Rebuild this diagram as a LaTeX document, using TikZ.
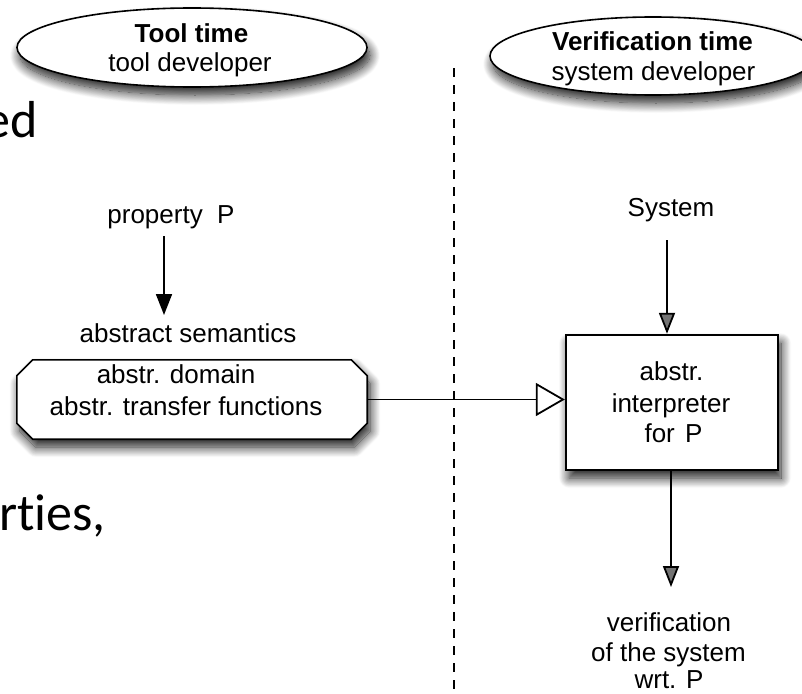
\documentclass[tikz,border=0pt]{standalone}
\usepackage{fontspec}
\setmainfont{Liberation Sans}
\newfontfamily\slidefont[Ligatures=NoCommon]{Carlito}
\usetikzlibrary{arrows.meta,shapes.geometric,shadows.blur}

\begin{document}
\begin{tikzpicture}[x=1pt,y=-1pt,
  lbl/.style={anchor=base, inner sep=0pt, font=\fontsize{26}{30}\selectfont},
  ttl/.style={anchor=base, inner sep=0pt, font=\fontsize{26}{30}\selectfont\bfseries},
  soft/.style={blur shadow={shadow xshift=3pt, shadow yshift=-8pt,
      shadow blur radius=10pt, shadow blur steps=16, shadow opacity=90}},
  bubble/.style={ellipse, draw, line width=1.6pt, fill=white, soft, inner sep=0pt},
  frame/.style={draw=none, inner sep=0pt},
  arr/.style={line width=1.8pt, -{Triangle[length=21pt,width=16pt]}},
  feed/.style={line width=1.8pt, -{Triangle[open,length=29pt,width=33pt,fill=white]}},
  divider/.style={line width=1.8pt, dash pattern=on 9pt off 8pt},
  slide/.style={inner sep=0pt, font=\slidefont\fontsize{52}{60}\selectfont}
]
\useasboundingbox (0,0) rectangle (802,693);

% fragments of the slide text behind the diagram
\node[slide, anchor=base east] (slideA) at (38,137) {ed};
\node[slide, anchor=base west] (slideB) at (-1,530) {rties,};

% divider between tool time and verification time
\coordinate (dtop) at (454,68);
\coordinate (dbot) at (454,693);
\draw[divider] (dtop) -- (dbot);

% the two phases
\node[bubble, minimum width=350pt, minimum height=79pt] (tool) at (192,47.5) {};
\node[ttl] (toolA) at (191.5,42) {Tool time};
\node[lbl] (toolB) at (190,71) {tool developer};

\node[bubble, minimum width=326pt, minimum height=78pt] (veri) at (653,56) {};
\node[ttl] (veriA) at (652.5,50) {Verification time};
\node[lbl] (veriB) at (653.5,80) {system developer};

% tool side
\node[lbl] (prop) at (171,223) {property~~P};
\node[lbl] (sem) at (188,342) {abstract semantics};
\coordinate (propout) at (164,236);
\coordinate (semin) at (164,315);
\draw[arr] (propout) -- (semin);

\node[frame, minimum width=350pt, minimum height=79pt] (dom) at (192,399.5) {};
\draw[line width=1.6pt, fill=white, soft]
  ([xshift=16pt]dom.north west) -- ([xshift=-16pt]dom.north east)
  -- ([yshift=-16pt]dom.north east) -- ([yshift=16pt]dom.south east)
  -- ([xshift=-16pt]dom.south east) -- ([xshift=16pt]dom.south west)
  -- ([yshift=16pt]dom.south west) -- ([yshift=-16pt]dom.north west) -- cycle;
\node[lbl] (domA) at (176,383) {abstr. domain};
\node[lbl] (domB) at (186,415) {abstr. transfer functions};

% verification side
\node[lbl] (sys) at (671,216) {System};
\node[draw, line width=2.4pt, fill=white, soft, minimum width=212pt,
      minimum height=135pt] (interp) at (672,402.5) {};
\node[lbl] (intA) at (671.5,380) {abstr.};
\node[lbl] (intB) at (671,412) {interpreter};
\node[lbl] (intC) at (673.5,442) {for\hspace{3pt} P};

\coordinate (sysout) at (667,240);
\draw[arr] (sysout) -- (sysout |- interp.north);
\draw[feed] (dom.east) -- (dom.east -| interp.west);

\coordinate (resin) at (671,587);
\draw[arr] (resin |- interp.south) -- (resin);
\node[lbl] (resA) at (669,631) {verification};
\node[lbl] (resB) at (668.5,661) {of the system};
\node[lbl] (resC) at (669,688) {wrt. P};
\end{tikzpicture}
\end{document}
